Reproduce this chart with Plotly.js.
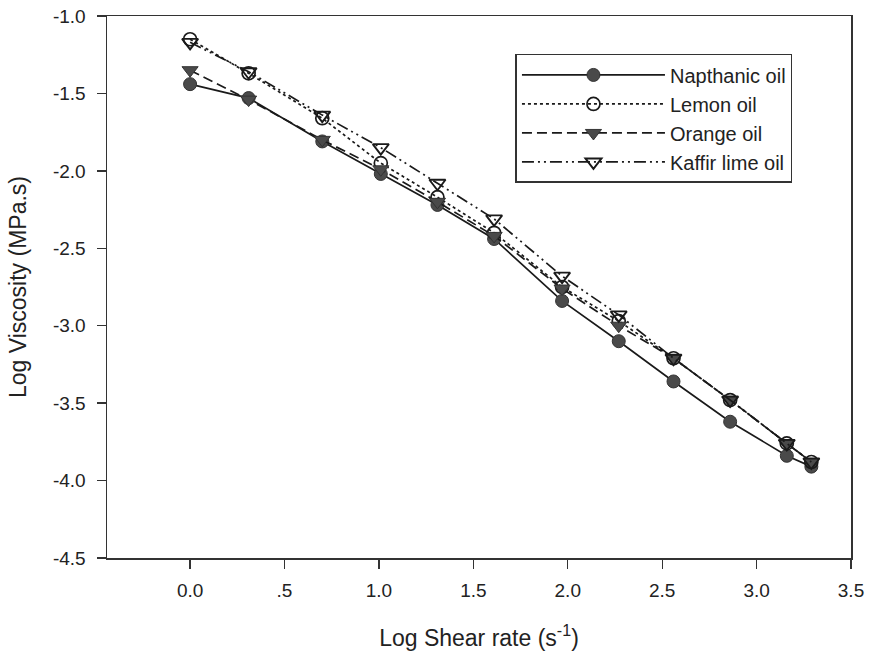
<!DOCTYPE html>
<html>
<head>
<meta charset="utf-8">
<script src="https://cdn.plot.ly/plotly-3.0.1.min.js"></script>
<style>html,body{margin:0;padding:0;background:#fff;}#chart{width:871px;height:655px;}</style>
</head>
<body>
<div id="chart"></div>
<script>
const shearRate = [0.00, 0.31, 0.70, 1.01, 1.31, 1.61, 1.97, 2.27, 2.56, 2.86, 3.16, 3.29];
const napthanic = [-1.44, -1.53, -1.81, -2.02, -2.22, -2.44, -2.84, -3.10, -3.36, -3.62, -3.84, -3.91];
const lemon     = [-1.15, -1.37, -1.66, -1.95, -2.17, -2.40, -2.75, -2.97, -3.21, -3.48, -3.76, -3.88];
const orange    = [-1.35, -1.54, -1.80, -1.99, -2.20, -2.42, -2.76, -3.00, -3.21, -3.48, -3.76, -3.88];
const kaffir    = [-1.17, -1.36, -1.64, -1.85, -2.08, -2.31, -2.68, -2.93, -3.21, -3.48, -3.76, -3.88];
const seriesNames = ["Napthanic oil", "Lemon oil", "Orange oil", "Kaffir lime oil"];
const xTickVals = [0, 0.5, 1, 1.5, 2, 2.5, 3, 3.5];
const xTickText = ["0.0", ".5", "1.0", "1.5", "2.0", "2.5", "3.0", "3.5"];
const yTickVals = [-1.0, -1.5, -2.0, -2.5, -3.0, -3.5, -4.0, -4.5];
const yTickText = ["-1.0", "-1.5", "-2.0", "-2.5", "-3.0", "-3.5", "-4.0", "-4.5"];

const ink = '#1a1a1a';
const fill = '#4a4a4a';
const traces = [
  {x: shearRate, y: napthanic, name: seriesNames[0], mode: 'lines+markers',
   line: {color: ink, width: 1.7, dash: 'solid'},
   marker: {symbol: 'circle', size: 13, color: fill, line: {color: '#333', width: 1}}},
  {x: shearRate, y: lemon, name: seriesNames[1], mode: 'lines+markers',
   line: {color: ink, width: 1.7, dash: 'dot'},
   marker: {symbol: 'circle-open', size: 13, color: ink, line: {color: ink, width: 1.7}}},
  {x: shearRate, y: orange, name: seriesNames[2], mode: 'lines+markers',
   line: {color: ink, width: 1.7, dash: '10px,5px'},
   marker: {symbol: 'triangle-down', size: 14, color: fill, line: {color: '#333', width: 1}}},
  {x: shearRate, y: kaffir, name: seriesNames[3], mode: 'lines+markers',
   line: {color: ink, width: 1.7, dash: '12px,4px,2px,4px,2px,4px'},
   marker: {symbol: 'triangle-down-open', size: 14, color: ink, line: {color: ink, width: 1.9}}}
];

const layout = {
  width: 871, height: 655,
  margin: {l: 107, r: 20, t: 16, b: 97},
  paper_bgcolor: '#fff', plot_bgcolor: '#fff',
  font: {family: 'Liberation Sans, Arial, sans-serif', color: '#222', size: 19},
  showlegend: true,
  legend: {
    x: 0.549, y: 0.93, xanchor: 'left', yanchor: 'top',
    bordercolor: '#333', borderwidth: 1.5, bgcolor: '#fff',
    font: {size: 20, color: '#222'},
    itemwidth: 143
  },
  xaxis: {
    range: [-0.44, 3.5], tickvals: xTickVals, ticktext: xTickText,
    ticks: 'outside', ticklen: 9, tickwidth: 1.3, tickcolor: '#333',
    ticklabelstandoff: 6,
    showline: true, linecolor: '#333', linewidth: 1.5, mirror: true,
    showgrid: false, zeroline: false,
    tickfont: {size: 19, color: '#222'},
    title: {text: 'Log Shear rate (s<sup>-1</sup>)', font: {size: 23, color: '#222'}, standoff: 29}
  },
  yaxis: {
    range: [-4.5, -1.0], tickvals: yTickVals, ticktext: yTickText,
    ticks: 'outside', ticklen: 9, tickwidth: 1.3, tickcolor: '#333',
    ticklabelstandoff: 7,
    showline: true, linecolor: '#333', linewidth: 1.5, mirror: true,
    showgrid: false, zeroline: false,
    tickfont: {size: 19, color: '#222'},
    title: {text: 'Log Viscosity (MPa.s)', font: {size: 23, color: '#222'}, standoff: 20}
  }
};

Plotly.newPlot('chart', traces, layout, {displayModeBar: false, staticPlot: true});
</script>
</body>
</html>
